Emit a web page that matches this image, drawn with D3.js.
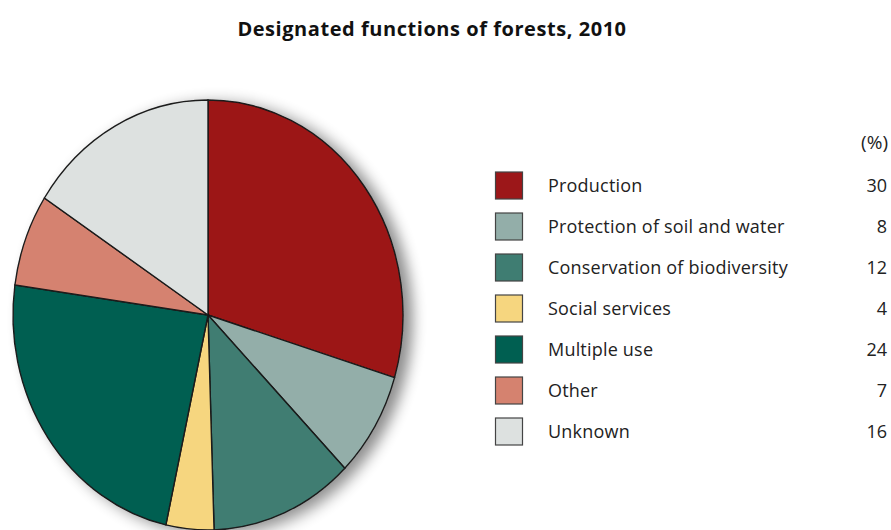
<!DOCTYPE html>
<html><head><meta charset="utf-8">
<script src="https://cdn.jsdelivr.net/npm/d3@7"></script>
<style>body{margin:0;background:#fff}svg{display:block}</style>
</head><body>
<svg id="c" width="891" height="530"></svg>
<script>
const categories = ["Production","Protection of soil and water","Conservation of biodiversity","Social services","Multiple use","Other","Unknown"];
const values = [30, 8, 12, 4, 24, 7, 16];
const colors = ["#9c1719","#93aea9","#3f7d72","#f6d67f","#005f51","#d5826f","#dde1e0"];
const title = "Designated functions of forests, 2010";
const unitLabel = "(%)";

const svg = d3.select("#c");
const font = "'Open Sans', 'Noto Sans', sans-serif";

const defs = svg.append("defs");
const f = defs.append("filter").attr("id","sh").attr("x","-20%").attr("y","-20%").attr("width","150%").attr("height","150%");
f.append("feGaussianBlur").attr("in","SourceAlpha").attr("stdDeviation",7).attr("result","b");
f.append("feOffset").attr("in","b").attr("dx",9).attr("dy",4).attr("result","o");
f.append("feComponentTransfer").attr("in","o").attr("result","o2")
  .append("feFuncA").attr("type","linear").attr("slope",0.45);
const m = f.append("feMerge");
m.append("feMergeNode").attr("in","o2");
m.append("feMergeNode").attr("in","SourceGraphic");

svg.append("text").attr("x",432).attr("y",36).attr("text-anchor","middle")
  .attr("font-family",font).attr("font-weight","bold").attr("font-size",20).attr("letter-spacing",0.55)
  .attr("fill","#111").text(title);

const cx = 208, cy = 315, rx = 195, ry = 215;
const pie = d3.pie().sort(null).value(d => d)(values);
const arc = d3.arc().innerRadius(0).outerRadius(rx);
const g = svg.append("g").attr("transform",`translate(${cx},${cy}) scale(1,${ry/rx})`);
const pg = g.append("g").attr("filter","url(#sh)");
pg.selectAll("path").data(pie).join("path")
  .attr("d",arc).attr("fill",(d,i)=>colors[i])
  .attr("stroke","#1a1a1a").attr("stroke-width",1.4).attr("vector-effect","non-scaling-stroke");

const y = d3.scalePoint().domain(categories).range([185.5,431.5]);
const leg = svg.append("g");
leg.append("text").attr("x",888).attr("y",149).attr("text-anchor","end")
  .attr("font-family",font).attr("font-size",19).attr("fill","#222").text(unitLabel);
const rows = leg.selectAll("g.r").data(categories).join("g").attr("class","r")
  .attr("transform",d=>`translate(0,${y(d)})`);
rows.append("rect").attr("x",495.5).attr("y",-13.5).attr("width",27).attr("height",27)
  .attr("fill",(d,i)=>colors[i]).attr("stroke","#444").attr("stroke-width",1.2);
rows.append("text").attr("x",548).attr("y",6).attr("font-family",font).attr("font-size",18)
  .attr("letter-spacing",0.2).attr("fill","#222").text(d=>d);
rows.append("text").attr("x",887).attr("y",6).attr("text-anchor","end").attr("font-family",font).attr("font-size",18)
  .attr("fill","#222").text((d,i)=>values[i]);
</script>
</body></html>
